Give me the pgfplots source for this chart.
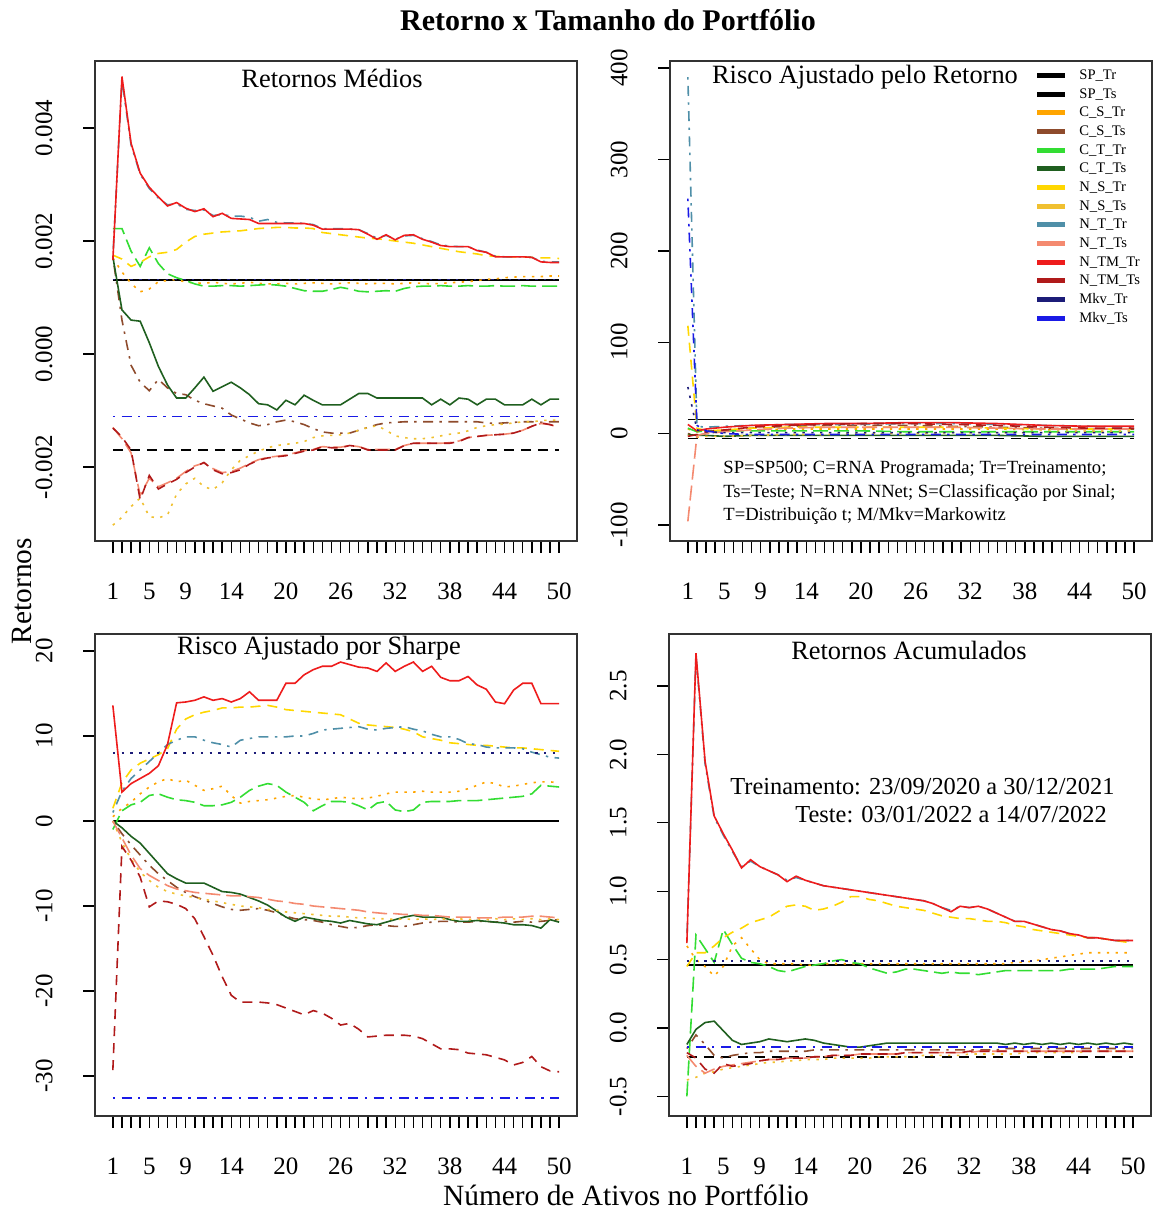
\documentclass[border=0pt]{standalone}
\usepackage{fontspec}
\setmainfont{Liberation Serif}
\usepackage{pgfplots}
\usepackage{pgfplotstable}
\pgfplotsset{compat=1.18}

\definecolor{cCSTr}{HTML}{FFA500}
\definecolor{cCSTs}{HTML}{8E4B2C}
\definecolor{cCTTr}{HTML}{33DD33}
\definecolor{cCTTs}{HTML}{1F5F1F}
\definecolor{cNSTr}{HTML}{FFD700}
\definecolor{cNSTs}{HTML}{F0C030}
\definecolor{cNTTr}{HTML}{4F8FA8}
\definecolor{cNTTs}{HTML}{F48A70}
\definecolor{cNMTr}{HTML}{EE1C1C}
\definecolor{cNMTs}{HTML}{B01A1A}
\definecolor{cMkTr}{HTML}{1C1C78}
\definecolor{cMkTs}{HTML}{1A1AE6}

\tikzset{
  pdash/.style={dash pattern=on 5pt off 3.5pt},
  pdot/.style={dash pattern=on 1.2pt off 3.2pt},
  pdotdash/.style={dash pattern=on 1.2pt off 3.2pt on 5pt off 3.2pt},
  plong/.style={dash pattern=on 7.5pt off 3pt},
  sSPTr/.style={black, solid},
  sSPTs/.style={black, pdash},
  sCSTr/.style={cCSTr, pdot},
  sCSTs/.style={cCSTs, pdotdash},
  sCTTr/.style={cCTTr, plong},
  sCTTs/.style={cCTTs, solid},
  sNSTr/.style={cNSTr, pdash},
  sNSTs/.style={cNSTs, pdot},
  sNTTr/.style={cNTTr, pdotdash},
  sNTTs/.style={cNTTs, plong},
  sNMTr/.style={cNMTr, solid},
  sNMTs/.style={cNMTs, pdash},
  sMkTr/.style={cMkTr, pdot},
  sMkTs/.style={cMkTs, pdotdash},
}

\pgfplotsset{
  panel/.style={
    scale only axis, width=241pt, height=240pt,
    anchor=south west,
    xmin=-0.96, xmax=51.96,
    axis line style={line width=0.8pt, black!80},
    tick pos=left,
    tick align=outside, major tick length=6pt,
    tick style={black, line width=0.7pt},
    scaled y ticks=false,
    xtick={1,...,50},
    xticklabels={1,,,,5,,,,9,,,,,14,,,,,,20,,,,,,26,,,,,,32,,,,,,38,,,,,,44,,,,,,50},
    ticklabel style={font=\fontsize{12.5}{14}\selectfont},
    xticklabel style={anchor=north, inner sep=0pt, yshift=-14.75pt},
    yticklabel style={rotate=90, anchor=south, inner sep=0pt, yshift=15pt},
    every axis plot/.append style={line width=0.8pt},
  },
}

% Return per number of assets, one column per strategy
% (Retornos Medios stored in thousandths)
\pgfplotstableread{
x  CSTr  CSTs  CTTr  CTTs  NSTr  NSTs  NTTr  NTTs  NMTr  NMTs
1  1.70  1.72  2.22  1.72  1.75 -3.03  1.70 -1.30  1.66 -1.31
2  1.45  0.60  2.22  0.78  1.68 -2.89  4.85 -1.50  4.91 -1.47
3  1.25 -0.20  1.82  0.60  1.55 -2.70  3.70 -1.75  3.73 -1.70
4  1.10 -0.50  1.55  0.58  1.62 -2.55  3.18 -2.50  3.20 -2.58
5  1.15 -0.65  1.88  0.20  1.72 -2.88  2.93 -2.20  2.95 -2.15
6  1.28 -0.45  1.60 -0.22  1.78 -2.90  2.76 -2.35  2.78 -2.39
7  1.30 -0.60  1.42 -0.55  1.80 -2.85  2.64 -2.28  2.62 -2.30
8  1.32 -0.70  1.35 -0.78  1.85 -2.48  2.66 -2.20  2.68 -2.22
9  1.27 -0.72  1.30 -0.78  1.98 -2.30  2.56 -2.08  2.58 -2.10
10 1.26 -0.82  1.24 -0.60  2.08 -2.20  2.54 -1.98  2.52 -2.00
11 1.25 -0.88  1.20 -0.41  2.12 -2.35  2.55 -1.93  2.57 -1.92
12 1.27 -0.92  1.20 -0.66  2.14 -2.40  2.45 -2.03  2.43 -2.05
13 1.25 -0.96  1.21 -0.58  2.16 -2.28  2.47 -2.10  2.49 -2.12
14 1.24 -1.08  1.21 -0.50  2.17 -2.05  2.44 -2.08  2.40 -2.10
15 1.25 -1.15  1.20 -0.60  2.18 -1.88  2.44 -2.02  2.39 -2.05
16 1.27 -1.22  1.21 -0.72  2.20 -1.80  2.42 -1.94  2.38 -1.95
17 1.25 -1.27  1.22 -0.88  2.22 -1.72  2.35 -1.87  2.31 -1.88
18 1.24 -1.25  1.23 -0.90  2.23 -1.66  2.38 -1.83  2.31 -1.84
19 1.24 -1.20  1.22 -0.99  2.24 -1.62  2.33 -1.81  2.31 -1.82
20 1.25 -1.17  1.20 -0.82  2.24 -1.60  2.32 -1.79  2.31 -1.80
21 1.24 -1.20  1.16 -0.90  2.23 -1.58  2.32 -1.75  2.31 -1.76
22 1.25 -1.25  1.12 -0.73  2.23 -1.55  2.31 -1.71  2.31 -1.72
23 1.26 -1.32  1.11 -0.82  2.22 -1.48  2.29 -1.69  2.28 -1.70
24 1.25 -1.38  1.11 -0.90  2.15 -1.45  2.22 -1.64  2.21 -1.64
25 1.24 -1.40  1.14 -0.90  2.13 -1.44  2.22 -1.65  2.21 -1.66
26 1.25 -1.40  1.18 -0.90  2.11 -1.43  2.22 -1.65  2.21 -1.66
27 1.26 -1.40  1.15 -0.80  2.09 -1.40  2.21 -1.62  2.21 -1.62
28 1.25 -1.35  1.11 -0.70  2.07 -1.35  2.20 -1.64  2.20 -1.64
29 1.24 -1.30  1.10 -0.70  2.05 -1.30  2.13 -1.69  2.12 -1.70
30 1.25 -1.25  1.11 -0.78  2.04 -1.27  2.05 -1.69  2.03 -1.70
31 1.25 -1.22  1.12 -0.78  2.02 -1.35  2.10 -1.69  2.11 -1.70
32 1.24 -1.21  1.11 -0.78  2.00 -1.45  2.03 -1.69  2.02 -1.70
33 1.25 -1.20  1.16 -0.78  1.98 -1.48  2.09 -1.62  2.10 -1.62
34 1.26 -1.20  1.19 -0.78  1.96 -1.50  2.10 -1.58  2.11 -1.58
35 1.25 -1.20  1.20 -0.78  1.93 -1.50  2.04 -1.58  2.03 -1.58
36 1.24 -1.20  1.20 -0.90  1.90 -1.48  1.99 -1.58  1.98 -1.58
37 1.25 -1.20  1.21 -0.80  1.87 -1.45  1.93 -1.58  1.92 -1.58
38 1.26 -1.20  1.20 -0.90  1.84 -1.42  1.91 -1.57  1.90 -1.58
39 1.27 -1.20  1.20 -0.78  1.81 -1.40  1.90 -1.54  1.90 -1.55
40 1.28 -1.20  1.21 -0.80  1.79 -1.36  1.90 -1.48  1.90 -1.48
41 1.30 -1.20  1.20 -0.90  1.77 -1.30  1.84 -1.46  1.83 -1.46
42 1.32 -1.22  1.20 -0.80  1.74 -1.27  1.80 -1.44  1.80 -1.44
43 1.33 -1.23  1.21 -0.80  1.73 -1.25  1.73 -1.43  1.72 -1.43
44 1.35 -1.22  1.20 -0.90  1.72 -1.24  1.72 -1.42  1.72 -1.42
45 1.36 -1.21  1.20 -0.90  1.72 -1.22  1.72 -1.40  1.72 -1.40
46 1.37 -1.20  1.21 -0.90  1.72 -1.20  1.72 -1.35  1.72 -1.35
47 1.37 -1.20  1.20 -0.80  1.71 -1.20  1.71 -1.28  1.71 -1.28
48 1.37 -1.21  1.20 -0.90  1.70 -1.18  1.64 -1.23  1.63 -1.22
49 1.38 -1.20  1.20 -0.80  1.70 -1.17  1.63 -1.25  1.62 -1.25
50 1.38 -1.20  1.20 -0.80  1.69 -1.17  1.63 -1.30  1.62 -1.30
}\medios

% Return-adjusted risk
\pgfplotstableread{
x  CSTr CSTs CTTr CTTs NSTr NSTs NTTr NTTs NMTr NMTs MkTr MkTs
1  5    0    6   -1    118  -2   390  -96   10   -3   51   257
2  2   -2    2   -2    6    -4   8    -2    3    -1   4    9
3  2    0    3   -2    3    -3   7     0    5     2   2    3
5  3    3    3   -3    4    -3   8     2    7     4   1    0
8  4    6    3   -2    6    -2   9     4    9     7   1   -1
12 5    8    3   -2    7    -1   10    6    10    9   1   -1
16 5    9    3   -2    7    -1   10    7    11    10  1   -1
20 5    9    3   -2    7     0   10    7    11    11  1   -1
25 5    9    2   -2    7     0   11    7    12    11  1   -1
30 5    8    2   -2    7     1   11    7    12    10  1   -1
35 5    7    2   -2    6     1   10    6    11    9   1   -1
40 4    6    2   -3    5     1   9     5    9     7   1   -1
45 4    5    2   -3    5     2   8     5    8     6   1   -1
50 4    5    2   -3    5     2   7     5    8     6   1   -1
}\ajretorno

% Sharpe-adjusted risk
\pgfplotstableread{
x  CSTr  CSTs  CTTr  CTTs  NSTr  NSTs  NTTr  NTTs  NMTr  NMTs
1  0.5   0.0  -1.0   0.0   1.5   0.0   1.0   0.0  13.6 -29.3
2  1.5  -1.5   1.2  -0.8   4.5  -2.5   3.5  -2.0   3.4  -3.0
3  2.2  -2.8   1.9  -1.8   6.0  -4.5   5.0  -4.0   4.4  -4.6
4  3.2  -4.0   2.2  -2.6   6.8  -6.0   6.0  -5.6   5.0  -6.6
5  4.0  -5.2   3.0  -3.8   7.3  -7.0   7.0  -6.4   5.6 -10.1
6  4.6  -6.2   3.2  -5.0   7.8  -7.8   8.0  -7.0   6.5  -9.4
7  5.0  -7.0   2.8  -6.2   8.5  -8.3   9.0  -7.6   9.0  -9.5
8  4.6  -7.8   2.5  -6.8  10.8  -8.6   9.5  -8.0  13.9  -9.8
9  4.8  -8.4   2.4  -7.3  12.0  -8.8   9.9  -8.2  14.0 -10.3
10 4.2  -8.9   2.2  -7.3  12.5  -9.0   9.9  -8.4  14.2 -11.5
11 3.6  -9.3   1.8  -7.3  12.8  -9.2   9.5  -8.5  14.6 -13.6
12 3.8  -9.7   1.8  -7.8  13.0  -9.4   9.2  -8.6  14.2 -15.8
13 4.1 -10.1   1.9  -8.3  13.3  -9.6   9.0  -8.7  14.4 -18.3
14 3.0 -10.4   2.2  -8.4  13.3  -9.8   8.7  -8.8  14.0 -20.5
15 2.1 -10.5   2.8  -8.6  13.4 -10.0   9.5  -8.8  14.4 -21.3
16 2.3 -10.4   3.6  -9.0  13.4 -10.1   9.7  -8.9  15.2 -21.3
17 2.4 -10.3   4.1  -9.4  13.5 -10.2   9.9  -9.0  14.2 -21.3
18 2.5 -10.5   4.4  -9.9  13.6 -10.4   9.9  -9.2  14.2 -21.4
19 2.7 -10.8   4.2 -10.6  13.4 -10.5   9.9  -9.4  14.2 -21.6
20 2.9 -11.2   3.4 -11.3  13.1 -10.7   9.9  -9.5  16.2 -22.0
21 3.0 -11.5   2.8 -11.8  13.0 -10.8  10.0  -9.7  16.2 -22.4
22 2.8 -11.6   2.2 -11.3  12.9 -10.9  10.0  -9.8  17.2 -22.8
23 2.6 -11.7   1.2 -11.5  12.8 -11.0  10.3 -10.0  17.8 -22.3
24 2.5 -11.9   1.8 -11.7  12.7 -11.1  10.7 -10.1  18.2 -22.6
25 2.6 -12.2   2.3 -11.8  12.6 -11.2  10.8 -10.2  18.2 -23.2
26 2.8 -12.4   2.3 -12.0  12.5 -11.2  10.9 -10.3  18.7 -24.0
27 2.7 -12.6   2.2 -11.7  12.0 -11.3  11.0 -10.4  18.4 -23.8
28 2.6 -12.5   1.8 -11.9  11.5 -11.4  11.1 -10.5  18.1 -24.5
29 2.7 -12.3   1.3 -12.1  11.3 -11.4  10.8 -10.7  18.0 -25.4
30 2.9 -12.2   2.1 -12.2  11.2 -11.5  10.7 -10.8  17.6 -25.3
31 3.2 -12.3   2.3 -11.9  11.1 -11.5  10.9 -10.9  18.6 -25.2
32 3.4 -12.4   1.3 -11.6  11.0 -11.6  11.0 -10.9  17.6 -25.2
33 3.4 -12.4   1.1 -11.3  10.8 -11.5  11.1 -11.0  18.2 -25.2
34 3.4 -12.2   1.3 -11.1  10.5 -11.6  10.8 -11.0  18.7 -25.3
35 3.5 -12.0   2.2 -11.3   9.9 -11.5  10.6 -11.1  17.6 -25.6
36 3.4 -11.9   2.3 -11.3   9.7 -11.6  10.2 -11.1  18.2 -26.2
37 3.4 -11.8   2.3 -11.3   9.5 -11.5   9.9 -11.2  16.9 -26.8
38 3.4 -11.8   2.3 -11.6   9.2 -11.6   9.9 -11.3  16.5 -26.8
39 3.5 -11.9   2.4 -11.8   9.1 -11.5   9.6 -11.3  16.5 -26.9
40 3.8 -11.9   2.4 -11.8   9.0 -11.6   9.1 -11.3  17.0 -27.3
41 4.2 -11.8   2.4 -11.7   8.9 -11.5   9.0 -11.4  16.0 -27.4
42 4.6 -11.8   2.5 -11.8   8.9 -11.6   8.7 -11.4  15.5 -27.5
43 4.4 -11.9   2.6 -11.9   8.8 -11.5   8.6 -11.4  14.0 -27.8
44 4.0 -11.8   2.7 -12.0   8.7 -11.6   8.6 -11.3  13.8 -28.1
45 4.1 -11.9   2.8 -12.2   8.6 -11.5   8.6 -11.3  15.4 -28.7
46 4.3 -11.8   2.9 -12.2   8.6 -11.6   8.5 -11.3  16.2 -28.4
47 4.5 -11.9   3.2 -12.3   8.5 -11.5   8.1 -11.2  16.2 -27.7
48 4.6 -11.8   4.2 -12.6   8.4 -11.6   7.8 -11.2  13.8 -28.9
49 4.6 -11.7   4.1 -11.6   8.3 -11.5   7.5 -11.3  13.8 -29.4
50 4.5 -11.6   4.0 -11.9   8.2 -11.6   7.4 -11.4  13.8 -29.5
}\sharpe

% Cumulative returns
\pgfplotstableread{
x  CSTr  CSTs  CTTr  CTTs  NSTr  NSTs  NTTr  NTTs  NMTr  NMTs
1  0.60 -0.15 -0.50 -0.12  0.45 -0.38  0.63 -0.20  0.62 -0.18
2  0.50 -0.05  0.68 -0.01  0.55 -0.36  2.72 -0.28  2.74 -0.22
3  0.45 -0.12  0.58  0.04  0.55 -0.33  1.93 -0.33  1.95 -0.30
4  0.38 -0.20  0.48  0.05  0.60 -0.32  1.54 -0.30  1.55 -0.33
5  0.45 -0.22  0.72 -0.02  0.66 -0.30  1.41 -0.28  1.42 -0.26
6  0.60 -0.20  0.61 -0.09  0.70 -0.29  1.29 -0.27  1.30 -0.28
7  0.66 -0.19  0.51 -0.12  0.73 -0.28  1.18 -0.26  1.17 -0.27
8  0.58 -0.18  0.48 -0.11  0.77 -0.27  1.22 -0.25  1.23 -0.26
9  0.50 -0.18  0.47 -0.10  0.79 -0.26  1.18 -0.24  1.18 -0.24
10 0.47 -0.17  0.45 -0.08  0.81 -0.25  1.15 -0.23  1.15 -0.23
11 0.47 -0.17  0.42 -0.09  0.85 -0.25  1.12 -0.23  1.12 -0.23
12 0.47 -0.17  0.41 -0.10  0.89 -0.24  1.08 -0.22  1.07 -0.22
13 0.47 -0.17  0.43 -0.09  0.90 -0.24  1.10 -0.22  1.11 -0.22
14 0.46 -0.17  0.45 -0.08  0.89 -0.23  1.08 -0.22  1.08 -0.22
15 0.46 -0.16  0.46 -0.09  0.86 -0.23  1.06 -0.21  1.06 -0.21
16 0.47 -0.16  0.47 -0.11  0.87 -0.23  1.04 -0.21  1.04 -0.21
17 0.47 -0.16  0.49 -0.12  0.89 -0.22  1.03 -0.20  1.03 -0.20
18 0.47 -0.16  0.50 -0.13  0.92 -0.22  1.02 -0.20  1.02 -0.20
19 0.47 -0.16  0.48 -0.14  0.96 -0.22  1.01 -0.20  1.01 -0.20
20 0.47 -0.16  0.47 -0.14  0.96 -0.22  1.00 -0.19  1.00 -0.19
21 0.47 -0.16  0.44 -0.13  0.94 -0.22  0.99 -0.19  0.99 -0.19
22 0.47 -0.16  0.42 -0.12  0.93 -0.21  0.98 -0.19  0.98 -0.19
23 0.47 -0.16  0.40 -0.11  0.91 -0.21  0.97 -0.19  0.97 -0.19
24 0.47 -0.16  0.41 -0.11  0.89 -0.21  0.96 -0.19  0.96 -0.19
25 0.47 -0.16  0.43 -0.11  0.88 -0.21  0.95 -0.18  0.95 -0.18
26 0.47 -0.16  0.43 -0.11  0.87 -0.21  0.94 -0.18  0.94 -0.18
27 0.47 -0.16  0.42 -0.11  0.86 -0.20  0.93 -0.18  0.93 -0.18
28 0.47 -0.16  0.41 -0.11  0.84 -0.20  0.91 -0.18  0.91 -0.18
29 0.47 -0.16  0.40 -0.11  0.82 -0.20  0.88 -0.18  0.88 -0.18
30 0.47 -0.16  0.41 -0.11  0.81 -0.20  0.86 -0.18  0.85 -0.18
31 0.47 -0.16  0.40 -0.11  0.80 -0.20  0.89 -0.18  0.89 -0.18
32 0.47 -0.16  0.40 -0.11  0.80 -0.19  0.88 -0.18  0.88 -0.17
33 0.47 -0.16  0.39 -0.11  0.79 -0.19  0.89 -0.17  0.89 -0.17
34 0.47 -0.16  0.40 -0.11  0.78 -0.19  0.87 -0.17  0.87 -0.17
35 0.47 -0.16  0.41 -0.11  0.78 -0.19  0.84 -0.17  0.84 -0.17
36 0.47 -0.15  0.42 -0.12  0.77 -0.19  0.81 -0.17  0.81 -0.17
37 0.48 -0.15  0.42 -0.11  0.75 -0.19  0.78 -0.17  0.78 -0.17
38 0.48 -0.15  0.42 -0.12  0.74 -0.18  0.78 -0.17  0.78 -0.17
39 0.49 -0.15  0.42 -0.11  0.72 -0.18  0.76 -0.17  0.76 -0.17
40 0.50 -0.15  0.42 -0.12  0.71 -0.18  0.74 -0.17  0.74 -0.17
41 0.51 -0.15  0.42 -0.11  0.70 -0.18  0.72 -0.17  0.72 -0.17
42 0.52 -0.15  0.42 -0.12  0.69 -0.18  0.71 -0.17  0.71 -0.17
43 0.53 -0.15  0.43 -0.11  0.68 -0.18  0.69 -0.17  0.69 -0.17
44 0.54 -0.15  0.43 -0.12  0.67 -0.18  0.68 -0.17  0.68 -0.17
45 0.55 -0.15  0.43 -0.11  0.66 -0.17  0.66 -0.17  0.66 -0.17
46 0.55 -0.15  0.43 -0.12  0.66 -0.17  0.66 -0.17  0.66 -0.17
47 0.55 -0.15  0.44 -0.11  0.65 -0.17  0.65 -0.17  0.65 -0.17
48 0.55 -0.15  0.45 -0.12  0.64 -0.17  0.64 -0.17  0.64 -0.17
49 0.55 -0.15  0.45 -0.11  0.63 -0.17  0.64 -0.17  0.64 -0.17
50 0.55 -0.15  0.45 -0.12  0.62 -0.17  0.64 -0.17  0.64 -0.17
}\acumulados

% draws the ten strategy columns of a table, in legend order
\newcommand{\strategies}[1]{%
  \addplot[sCSTr] table[x=x,y=CSTr] {#1};
  \addplot[sCSTs] table[x=x,y=CSTs] {#1};
  \addplot[sCTTr] table[x=x,y=CTTr] {#1};
  \addplot[sCTTs] table[x=x,y=CTTs] {#1};
  \addplot[sNSTr] table[x=x,y=NSTr] {#1};
  \addplot[sNSTs] table[x=x,y=NSTs] {#1};
  \addplot[sNTTr] table[x=x,y=NTTr] {#1};
  \addplot[sNTTs] table[x=x,y=NTTs] {#1};
  \addplot[sNMTr] table[x=x,y=NMTr] {#1};
  \addplot[sNMTs] table[x=x,y=NMTs] {#1};
}

\begin{document}
\begin{tikzpicture}
\path[use as bounding box] (0,0) rectangle (576.5pt,606.5pt);

% Retornos Medios
\begin{axis}[panel, at={(47.5pt,336pt)},
  y filter/.expression={y*0.001},
  ymin=-0.00331, ymax=0.005186,
  ytick={-0.002,0,0.002,0.004},
  yticklabels={-0.002,0.000,0.002,0.004}]
  \addplot[sSPTr] coordinates {(1,1.31) (50,1.31)};
  \addplot[sSPTs] coordinates {(1,-1.70) (50,-1.70)};
  \strategies{\medios}
  \addplot[sMkTr] coordinates {(1,1.32) (50,1.32)};
  \addplot[sMkTs] coordinates {(1,-1.11) (50,-1.11)};
\end{axis}

% Risco Ajustado pelo Retorno
\begin{axis}[panel, at={(335pt,336pt)},
  ymin=-117.5, ymax=407.7,
  ytick={-100,0,100,200,300,400},
  yticklabels={-100,0,100,200,300,400}]
  \addplot[sSPTr] coordinates {(1,15.6) (50,15.6)};
  \addplot[sSPTs] coordinates {(1,-5.5) (50,-5.5)};
  \strategies{\ajretorno}
  \addplot[sMkTr] table[x=x,y=MkTr] {\ajretorno};
  \addplot[sMkTs] table[x=x,y=MkTs] {\ajretorno};
\end{axis}

% Risco Ajustado por Sharpe
\begin{axis}[panel, at={(47.5pt,48.5pt)}, height=241pt,
  ymin=-34.7, ymax=22.0,
  ytick={-30,-20,-10,0,10,20},
  yticklabels={-30,-20,-10,0,10,20}]
  \addplot[sSPTr] coordinates {(1,0) (50,0)};
  \addplot[sSPTs] coordinates {(1,0) (50,0)};
  \strategies{\sharpe}
  \addplot[sMkTr] coordinates {(1,8.0) (50,8.0)};
  \addplot[sMkTs] coordinates {(1,-32.6) (50,-32.6)};
\end{axis}

% Retornos Acumulados
\begin{axis}[panel, at={(334.5pt,48.5pt)}, height=241pt,
  ymin=-0.643, ymax=2.88,
  ytick={-0.5,0,0.5,1,1.5,2,2.5},
  yticklabels={-0.5,0.0,0.5,1.0,1.5,2.0,2.5}]
  \addplot[sSPTr] coordinates {(1,0.46) (50,0.46)};
  \addplot[sSPTs] coordinates {(1,-0.21) (50,-0.21)};
  \strategies{\acumulados}
  \addplot[sMkTr] coordinates {(1,0.49) (50,0.49)};
  \addplot[sMkTs] coordinates {(1,-0.14) (50,-0.14)};
\end{axis}

% titles and shared labels
\node[font=\fontsize{15}{18}\selectfont\bfseries] at (304pt,596.5pt) {Retorno x Tamanho do Portfólio};
\node[font=\fontsize{14.7}{17}\selectfont] at (313pt,9pt) {Número de Ativos no Portfólio};
\node[font=\fontsize{14.7}{17}\selectfont, rotate=90] at (11pt,311pt) {Retornos};

\begin{scope}[every node/.style={font=\fontsize{13.2}{15}\selectfont}]
\node at (166pt,567.5pt) {Retornos Médios};
\node at (432.5pt,568pt) {Risco Ajustado pelo Retorno};
\node at (159.5pt,282.5pt) {Risco Ajustado por Sharpe};
\node at (454.5pt,281.5pt) {Retornos Acumulados};
\end{scope}

% abbreviations note
\begin{scope}[every node/.style={font=\fontsize{9.3}{11}\selectfont, anchor=west, inner sep=0pt}]
\node at (361.5pt,372pt) {SP=SP500; C=RNA Programada; Tr=Treinamento;};
\node at (361.5pt,360pt) {Ts=Teste; N=RNA NNet; S=Classificação por Sinal;};
\node at (361.5pt,348.5pt) {T=Distribuição t; M/Mkv=Markowitz};
\end{scope}

% sample periods
\begin{scope}[every node/.style={font=\fontsize{12.2}{14}\selectfont, anchor=west, inner sep=0pt}]
\node at (365pt,213pt) {Treinamento: 23/09/2020 a 30/12/2021};
\node at (397.5pt,199pt) {Teste: 03/01/2022 a 14/07/2022};
\end{scope}

% legend
\foreach \c/\t [count=\i from 0] in {
  black/SP\_Tr, black/SP\_Ts, cCSTr/C\_S\_Tr, cCSTs/C\_S\_Ts,
  cCTTr/C\_T\_Tr, cCTTs/C\_T\_Ts, cNSTr/N\_S\_Tr, cNSTs/N\_S\_Ts,
  cNTTr/N\_T\_Tr, cNTTs/N\_T\_Ts, cNMTr/N\_TM\_Tr, cNMTs/N\_TM\_Ts,
  cMkTr/Mkv\_Tr, cMkTs/Mkv\_Ts} {
  \draw[line width=2.5pt, \c] (518.5pt,{568.65pt-\i*9.325pt}) -- ++(14pt,0);
  \node[anchor=west, inner sep=0pt, font=\fontsize{7.3}{8}\selectfont]
    at (539.5pt,{568.65pt-\i*9.325pt}) {\t};
}
\end{tikzpicture}
\end{document}
